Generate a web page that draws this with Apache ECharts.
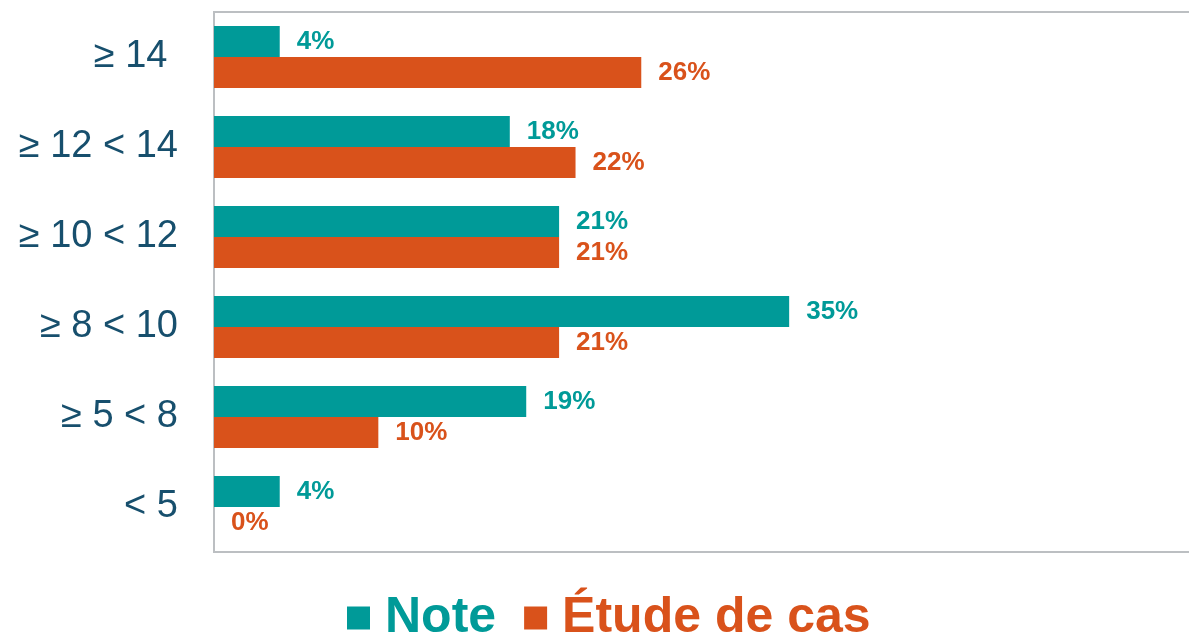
<!DOCTYPE html>
<html>
<head>
<meta charset="utf-8">
<script src="https://cdn.jsdelivr.net/npm/echarts@6/dist/echarts.min.js"></script>
<style>
    html, body { margin: 0; padding: 0; background: #fff; overflow: hidden; }
    #myEcharts { width: 1210px; height: 632px; }
</style>
</head>
<body>
<div id="myEcharts"></div>
<script>
// categories, top to bottom
const categories = ['≥ 14 ', '≥ 12 < 14', '≥ 10 < 12', '≥ 8 < 10', '≥ 5 < 8', '< 5'];
const noteValues = [4, 18, 21, 35, 19, 4];
const etudeValues = [26, 22, 21, 21, 10, 0];

const teal = '#009a98';
const orange = '#d9521b';
const font = "'Liberation Sans', Arial, sans-serif";

const valueLabel = (color) => ({
    show: true,
    position: 'right',
    distance: 17,
    formatter: '{c}%',
    color: color,
    fontSize: 26,
    fontWeight: 'bold',
    fontFamily: font
});

let chart = echarts.init(document.getElementById('myEcharts'));
chart.setOption({
    animation: false,
    grid: {
        left: 214,
        top: 12,
        width: 986,
        height: 540,
        show: true,
        borderColor: '#bcbfc2',
        borderWidth: 2,
        containLabel: false
    },
    legend: {
        bottom: -16,
        left: 342,
        icon: 'rect',
        itemWidth: 23,
        itemHeight: 23,
        itemGap: 28,
        textStyle: { fontSize: 50, fontWeight: 'bold', fontFamily: font, padding: [0, 0, 0, 10] },
        data: [
            { name: 'Note', textStyle: { color: teal } },
            { name: 'Étude de cas', textStyle: { color: orange } }
        ]
    },
    xAxis: {
        type: 'value',
        min: 0,
        max: 60,
        show: false
    },
    yAxis: {
        type: 'category',
        inverse: true,
        data: categories,
        axisLine: { show: false },
        axisTick: { show: false },
        axisLabel: {
            margin: 36,
            color: '#174f6d',
            fontSize: 38,
            fontFamily: font
        }
    },
    series: [
        {
            name: 'Note',
            type: 'bar',
            data: noteValues,
            barWidth: 31,
            barGap: '0%',
            itemStyle: { color: teal },
            label: valueLabel(teal)
        },
        {
            name: 'Étude de cas',
            type: 'bar',
            data: etudeValues,
            barWidth: 31,
            barGap: '0%',
            itemStyle: { color: orange },
            label: valueLabel(orange)
        }
    ]
});
</script>
</body>
</html>
